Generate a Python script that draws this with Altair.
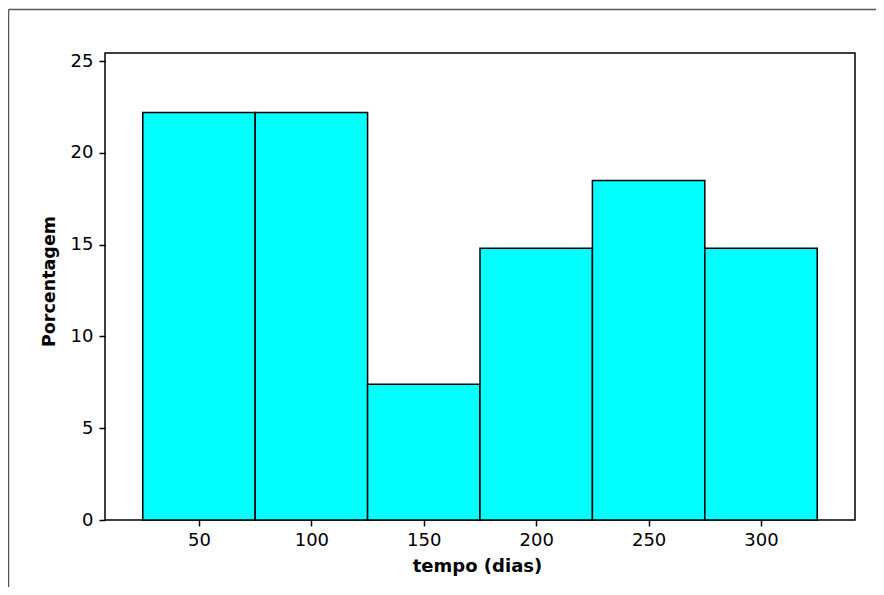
import altair as alt
import pandas as pd

bin_start = [25, 75, 125, 175, 225, 275]
bin_end = [75, 125, 175, 225, 275, 325]
percent = [22.2, 22.2, 7.4, 14.8, 18.5, 14.8]
x_ticks = [50, 100, 150, 200, 250, 300]
y_ticks = [0, 5, 10, 15, 20, 25]

df = pd.DataFrame({"start": bin_start, "end": bin_end, "pct": percent})

FONT = "DejaVu Sans"

bars = alt.Chart(df).mark_rect(
    color="#00FFFF", stroke="black", strokeWidth=1.5
).encode(
    x=alt.X(
        "start:Q",
        scale=alt.Scale(domain=[8.2, 341.8], nice=False, zero=False),
        axis=alt.Axis(
            values=x_ticks, title="tempo (dias)", grid=False, domain=False,
            tickSize=6, tickWidth=1.5, tickColor="black",
            labelPadding=5, labelFontSize=18, labelFont=FONT, labelColor="black",
            titleFont=FONT, titleFontSize=18, titleFontWeight="bold", titleColor="black",
            titleX=372, titleY=37,
        ),
    ),
    x2="end:Q",
    y=alt.Y(
        "pct:Q",
        scale=alt.Scale(domain=[0, 25.44], nice=False),
        axis=alt.Axis(
            values=y_ticks, title="Porcentagem", grid=False, domain=False,
            tickSize=6, tickWidth=1.5, tickColor="black",
            labelPadding=6, labelFontSize=18, labelFont=FONT, labelColor="black",
            titleFont=FONT, titleFontSize=17.5, titleFontWeight="bold", titleColor="black",
            titleX=-47, titleY=228,
        ),
    ),
    y2=alt.datum(0),
)

border_data = alt.Data(values=[{"a": 1}])
left_line = alt.Chart(border_data).mark_rule(color="#555555", strokeWidth=1.5).encode(
    x=alt.value(-96.5), y=alt.value(-43.5), y2=alt.value(600)
)
top_line = alt.Chart(border_data).mark_rule(color="#555555", strokeWidth=1.5).encode(
    x=alt.value(-96.5), x2=alt.value(800), y=alt.value(-43.5)
)

chart = alt.layer(bars, left_line, top_line).properties(
    width=750,
    height=467,
    background="white",
    autosize=alt.AutoSizeParams(type="none"),
    padding={"left": 97, "top": 45, "right": 21, "bottom": 67},
).configure_view(
    stroke="black", strokeWidth=1.5
)

chart.save("out.html", embed_options={"renderer": "svg", "actions": False})
